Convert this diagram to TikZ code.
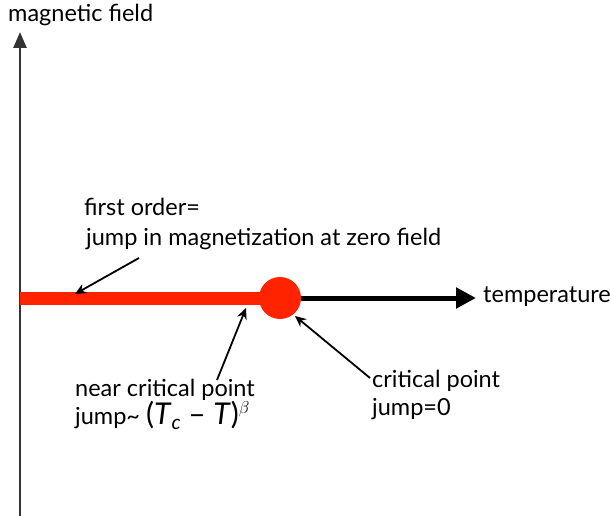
\documentclass[tikz,border=0pt]{standalone}
\usepackage{fontspec}
\setmainfont{Lato}
\usetikzlibrary{arrows.meta}
\definecolor{phasered}{RGB}{255,35,0}
\begin{document}
\begin{tikzpicture}[x=1pt,y=-1pt,
  lbl/.style={font=\fontsize{23.5}{28}\selectfont, inner sep=0pt, anchor=base west},
  pointer/.style={draw=black, line width=1.8pt, -{Stealth[length=11pt,width=10pt]}},
  axis/.style={draw=black!80, line width=2.6pt, -{Triangle[length=16pt,width=13pt]}}]
\useasboundingbox (0,0) rectangle (611,516);
% axes
\coordinate (vbot) at (20,516);
\coordinate (vtop) at (20,32);
\draw[axis] (vbot) -- (vtop);
\node[lbl] (mf) at (8,22) {magnetic field};
% first-order line and critical point
\coordinate (h0) at (20,298);
\node[circle, fill=phasered, minimum size=42pt, inner sep=0pt] (cp) at (280,298) {};
\draw[phasered, line width=13pt] (h0) -- (cp.center);
\coordinate (hend) at (476,298);
\draw[draw=black, line width=5pt, -{Triangle[length=20pt,width=20pt]}] (cp.east) -- (hend);
\node[lbl] (temp) at (483,302) {temperature};
% labels
\node[lbl] (fo) at (84,215) {first order=};
\node[lbl] (jm) at (86,245) {jump in magnetization at zero field};
\node[lbl] (nc) at (75,396) {near critical point};
\node[lbl] (jt) at (75,424) {jump\char`\~\ {\fontsize{30}{34}\selectfont(\textit{T}\raisebox{-5pt}{\fontsize{20}{24}\selectfont\textit{c}} -- \textit{T})\raisebox{11pt}{\fontsize{16}{18}\selectfont$\beta$}}};
\node[lbl] (cpl) at (372,387) {critical point};
\node[lbl] (j0) at (372,415) {jump=0};
% pointers
\coordinate (a1) at (139,258);
\coordinate (t1) at (75,294);
\draw[pointer] (a1) -- (t1);
\coordinate (a2) at (217,380);
\coordinate (t2) at (246,308);
\draw[pointer] (a2) -- (t2);
\coordinate (a3) at (370,378);
\coordinate (t3) at (295,316);
\draw[pointer] (a3) -- (t3);
\end{tikzpicture}
\end{document}
